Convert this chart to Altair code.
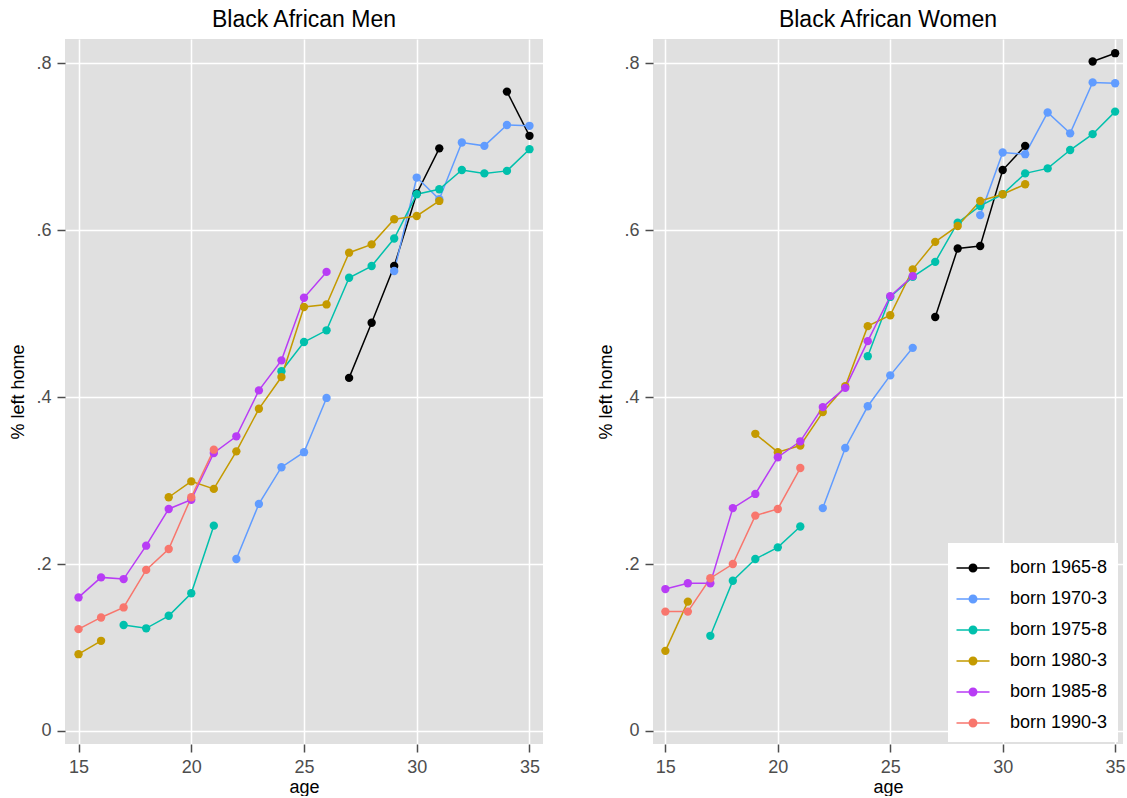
import altair as alt
import pandas as pd

AGES = list(range(15, 36))
COHORTS = ["born 1965-8", "born 1970-3", "born 1975-8", "born 1980-3", "born 1985-8", "born 1990-3"]
COLORS = ["#000000", "#619CFF", "#00C0AC", "#C49A00", "#B83CF5", "#F8766D"]
N = None

# Men: values for ages 15..35 (None = not observed)
men_1965 = [N] * 12 + [0.423, 0.489, 0.557, 0.644, 0.698, N, N, 0.766, 0.713]
men_1970 = [N] * 7 + [0.206, 0.272, 0.316, 0.334, 0.399, N, N,
                      0.551, 0.663, 0.637, 0.705, 0.701, 0.726, 0.725]
men_1975 = [N, N, 0.127, 0.123, 0.138, 0.165, 0.246, N, N,
            0.431, 0.466, 0.480, 0.543, 0.557, 0.590, 0.643, 0.649, 0.672, 0.668, 0.671, 0.697]
men_1980 = [0.092, 0.108, N, N, 0.280, 0.299, 0.290, 0.335, 0.386, 0.424, 0.508, 0.511,
            0.573, 0.583, 0.613, 0.617, 0.635] + [N] * 4
men_1985 = [0.160, 0.184, 0.182, 0.222, 0.266, 0.277, 0.333, 0.353, 0.408, 0.444, 0.519, 0.550] + [N] * 9
men_1990 = [0.122, 0.136, 0.148, 0.193, 0.218, 0.280, 0.337] + [N] * 14

# Women
women_1965 = [N] * 12 + [0.496, 0.578, 0.581, 0.672, 0.701, N, N, 0.802, 0.812]
women_1970 = [N] * 7 + [0.267, 0.339, 0.389, 0.426, 0.459, N, N,
                        0.618, 0.693, 0.691, 0.741, 0.716, 0.777, 0.776]
women_1975 = [N, N, 0.114, 0.180, 0.206, 0.220, 0.245, N, N,
              0.449, 0.520, 0.544, 0.562, 0.609, 0.629, 0.643, 0.668, 0.674, 0.696, 0.715, 0.742]
women_1980 = [0.096, 0.155, N, N, 0.356, 0.334, 0.342, 0.382, 0.413, 0.485, 0.498, 0.553,
              0.586, 0.605, 0.635, 0.643, 0.655] + [N] * 4
women_1985 = [0.170, 0.177, 0.177, 0.267, 0.284, 0.328, 0.347, 0.388, 0.411, 0.467, 0.521, 0.545] + [N] * 9
women_1990 = [0.143, 0.143, 0.183, 0.200, 0.258, 0.266, 0.315] + [N] * 14

MEN = [men_1965, men_1970, men_1975, men_1980, men_1985, men_1990]
WOMEN = [women_1965, women_1970, women_1975, women_1980, women_1985, women_1990]


def to_frame(series_list):
    rows = []
    for ci, (name, vals) in enumerate(zip(COHORTS, series_list)):
        seg = 0
        prev = None
        for age, v in zip(AGES, vals):
            if v is None:
                continue
            if prev is not None and age != prev + 1:
                seg += 1
            rows.append({"age": age, "value": v, "cohort": name, "ci": ci, "seg": f"{ci}-{seg}"})
            prev = age
    return pd.DataFrame(rows)


LEGEND_PATH = ("M-1.1,-0.05H1.1V0.05H-1.1Z "
               "M0.3,0A0.3,0.3 0 1,1 -0.3,0A0.3,0.3 0 1,1 0.3,0Z")


def panel(df, title, width, xdom, show_legend):
    base = alt.Chart(df)
    x = alt.X("age:Q", scale=alt.Scale(domain=xdom, nice=False, zero=False),
              axis=alt.Axis(values=[15, 20, 25, 30, 35], title="age", titlePadding=2,
                            labelPadding=6))
    y = alt.Y("value:Q", scale=alt.Scale(domain=[-0.0156, 0.829], nice=False, zero=False),
              axis=alt.Axis(values=[0, 0.2, 0.4, 0.6, 0.8], title="% left home",
                            labelExpr="datum.value == 0 ? '0' : '.' + format(datum.value * 10, 'd')"))
    scale = alt.Scale(domain=COHORTS, range=COLORS)
    if show_legend:
        leg = alt.Legend(title=None, orient="none", legendX=295, legendY=504, padding=10,
                         fillColor="white", labelFontSize=18, labelColor="black",
                         labelFont="Liberation Sans", symbolType=LEGEND_PATH, symbolSize=900,
                         symbolStrokeWidth=0, symbolOpacity=1, rowPadding=7, labelOffset=22)
    else:
        leg = None
    lines = base.mark_line(strokeWidth=1.5).encode(
        x=x, y=y, color=alt.Color("cohort:N", scale=scale, legend=leg), detail="seg:N")
    points = base.mark_point(filled=True, size=70, opacity=1).encode(
        x=x, y=y, color=alt.Color("cohort:N", scale=scale, legend=leg), order="ci:Q")
    return alt.layer(lines, points).properties(width=width, height=705, title=title)


left = panel(to_frame(MEN), "Black African Men", 478, [14.4, 35.6], False)
right = panel(to_frame(WOMEN), "Black African Women", 470, [14.45, 35.35], True)

chart = alt.hconcat(left, right, spacing=54).resolve_scale(color="independent").properties(
    padding={"left": 9, "top": 9, "right": 0, "bottom": 0}
).configure_view(fill="#E0E0E0", strokeWidth=0).configure_axis(
    labelFont="Liberation Sans", titleFont="Liberation Sans", labelFontSize=18,
    labelColor="#4D4D4D", tickColor="#4D4D4D", tickSize=8, tickWidth=1.5, domain=False,
    gridColor="white", gridWidth=1.5, titleFontSize=18, titleFontWeight="normal",
    titleColor="black", labelPadding=6, titlePadding=8
).configure_title(font="Liberation Sans", fontSize=23, fontWeight="normal", color="black",
                  anchor="middle", offset=7)

chart.save("out.html", embed_options={"renderer": "svg", "actions": False})
